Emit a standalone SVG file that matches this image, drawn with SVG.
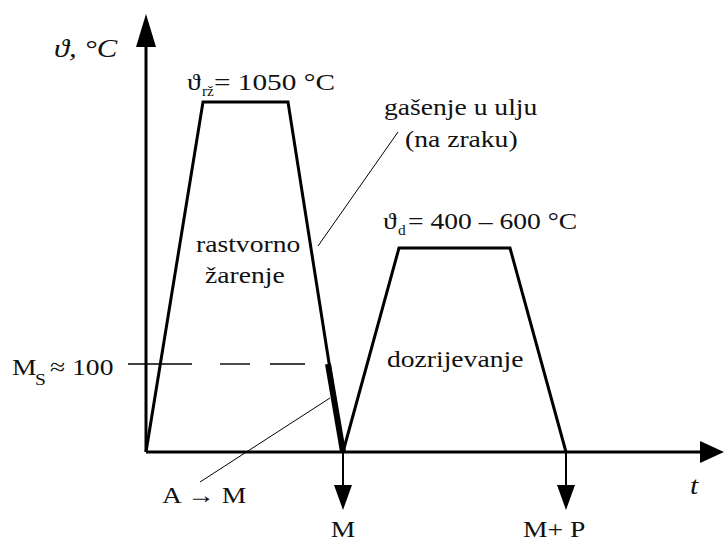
<svg xmlns="http://www.w3.org/2000/svg" width="724" height="545" viewBox="0 0 724 545">
<style>
.t text{font-size:24px;fill:#111}
.t text.it{font-style:italic;font-size:26px}
.t text.sub{font-size:14px}
.t text.sub2{font-size:17px}
.ax{stroke:#000;stroke-width:3;fill:none}
.cv{stroke:#000;stroke-width:3;fill:none;stroke-linejoin:miter}
.thin{stroke:#000;stroke-width:1;fill:none}
.dash{stroke:#000;stroke-width:1.4;fill:none}
.ah{fill:#000}
</style>
<rect width="724" height="545" fill="#fff"/>
<g class="t" font-family="'Liberation Serif', 'DejaVu Serif', serif">
<g id="axes">
<line class="ax" x1="146" y1="452" x2="146" y2="42"/>
<polygon class="ah" points="146,14 136,47 156,47"/>
<line class="ax" x1="146" y1="452" x2="702" y2="452"/>
<polygon class="ah" points="724,452 700,441 700,463"/>
<text class="it" transform="translate(54,57) scale(1.18,1)">ϑ, °C</text>
<text class="it" transform="translate(690,494) scale(1.15,1)">t</text>
</g>
<g id="connectors">
<polyline class="cv" points="146,452 203,102 288,102 343,452"/>
<line x1="328" y1="364" x2="343" y2="452" stroke="#000" stroke-width="6"/>
<polyline class="cv" points="343,452 399,248 510,248 566,452"/>
<line class="dash" x1="128" y1="364" x2="192" y2="364"/>
<line class="dash" x1="220" y1="364" x2="250" y2="364"/>
<line class="dash" x1="270" y1="364" x2="305" y2="364"/>
<line class="thin" x1="398" y1="132" x2="318" y2="246"/>
<line class="thin" x1="200" y1="482" x2="330" y2="398"/>
<line x1="343" y1="452" x2="343" y2="488" stroke="#000" stroke-width="2"/>
<polygon class="ah" points="334,485 352,485 343,510"/>
<line x1="566" y1="452" x2="566" y2="488" stroke="#000" stroke-width="2"/>
<polygon class="ah" points="557,485 575,485 566,510"/>
</g>
<g id="label-rz">
<text transform="translate(187,90) scale(1.15,1)">ϑ</text>
<text class="sub" transform="translate(202,96) scale(1.1,1)">rž</text>
<text transform="translate(214,90) scale(1.22,1)">= 1050 °C</text>
</g>
<g id="label-gasenje">
<text transform="translate(384,115) scale(1.15,1)">gašenje u ulju</text>
<text transform="translate(405,147) scale(1.15,1)">(na zraku)</text>
</g>
<g id="label-rastvorno">
<text transform="translate(196,252) scale(1.15,1)">rastvorno</text>
<text transform="translate(205,283) scale(1.15,1)">žarenje</text>
</g>
<g id="label-d">
<text transform="translate(383,229) scale(1.15,1)">ϑ</text>
<text class="sub" transform="translate(398,235) scale(1.1,1)">d</text>
<text transform="translate(408,229) scale(1.15,1)">= 400 – 600 °C</text>
</g>
<g id="label-dozrijevanje">
<text transform="translate(387,367) scale(1.15,1)">dozrijevanje</text>
</g>
<g id="label-ms">
<text transform="translate(12,375) scale(1.15,1)">M</text>
<text class="sub2" transform="translate(35,385) scale(1.15,1)">S</text>
<text transform="translate(50,375) scale(1.15,1)">≈ 100</text>
</g>
<g id="label-am">
<text transform="translate(162,503) scale(1.15,1)">A → M</text>
</g>
<g id="label-m">
<text text-anchor="middle" transform="translate(343,537) scale(1.15,1)">M</text>
</g>
<g id="label-mp">
<text transform="translate(523,537) scale(1.15,1)">M+ P</text>
</g>
</g>
</svg>
